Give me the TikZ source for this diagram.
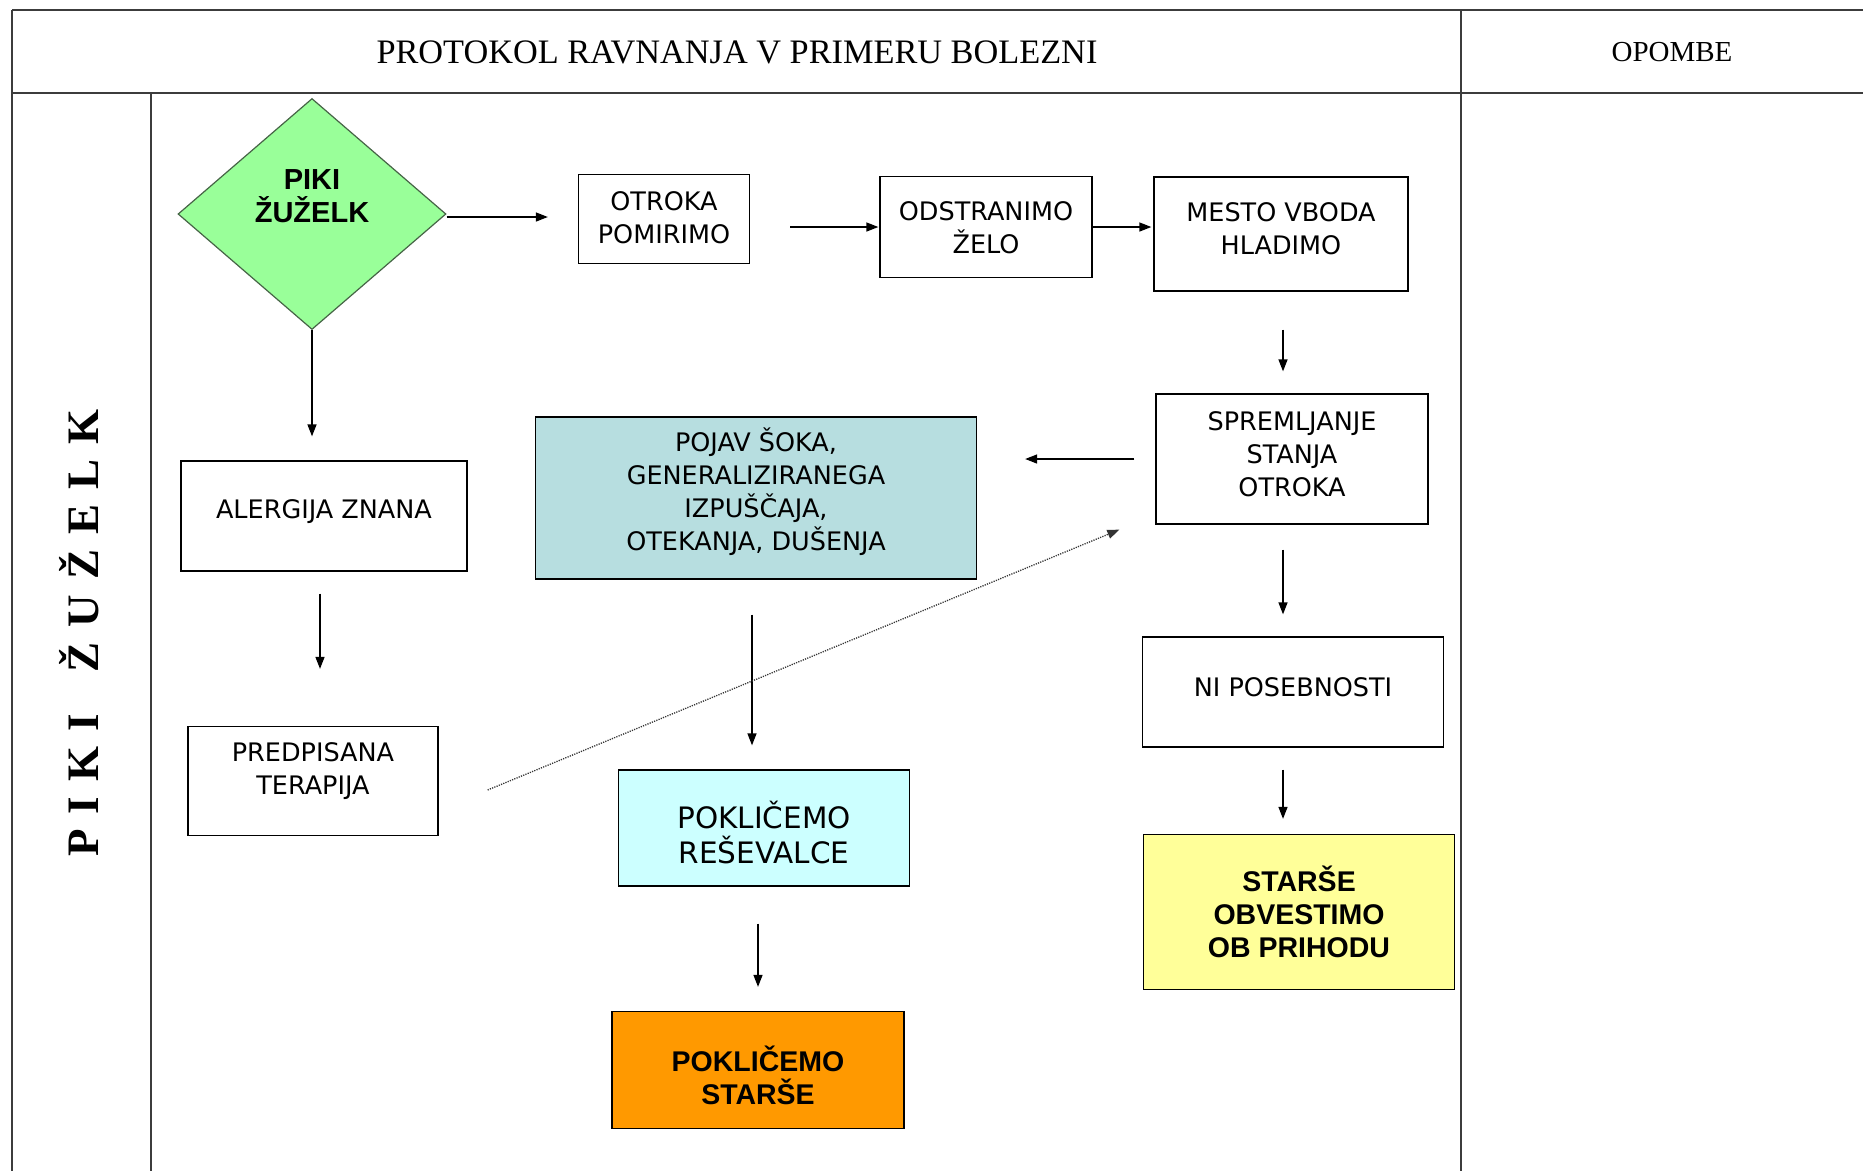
\documentclass[tikz,border=0pt]{standalone}
\usepackage{fontspec}
\setmainfont{Liberation Serif}
\newfontfamily\boxfont{DejaVu Sans}
\newfontfamily\strongfont{Liberation Sans}
\usetikzlibrary{shapes.geometric,arrows.meta}
\definecolor{tblline}{RGB}{60,60,60}
\definecolor{diafill}{RGB}{153,255,153}
\definecolor{diadraw}{RGB}{70,100,70}
\definecolor{shockfill}{RGB}{183,222,224}
\definecolor{ambfill}{RGB}{204,255,255}
\definecolor{parentfill}{RGB}{255,153,0}
\definecolor{notefill}{RGB}{255,255,153}
\newcommand{\lsp}{\hspace{15pt}}
\begin{document}
\begin{tikzpicture}[x=1pt,y=-1pt,
  tbl/.style={draw=tblline,line width=2pt},
  tblv/.style={draw=tblline,line width=1.5pt},
  stepbox/.style={draw=black,line width=1.3pt,inner sep=0pt},
  txt/.style={inner sep=0pt,align=center,font=\boxfont\fontsize{25.5}{33}\selectfont},
  boldtxt/.style={inner sep=0pt,align=center,font=\strongfont\bfseries\fontsize{28.5}{33}\selectfont},
  arr/.style={line width=1.4pt,-{Triangle[length=12pt,width=9pt]}},
  dotarr/.style={line width=1.3pt,draw=black!80,dash pattern=on 1.2pt off 1.2pt,
    -{Triangle[length=12pt,width=9pt]}}]
\useasboundingbox (0,0) rectangle (1863,1171);
\fill[white] (0,0) rectangle (1863,1171);

% table frame
\draw[tbl] (12,10) -- (1863,10);
\draw[tbl] (12,93) -- (1863,93);
\draw[tblv] (12,10) -- (12,1171);
\draw[tblv] (151,93) -- (151,1171);
\draw[tblv] (1461,10) -- (1461,1171);

% header texts
\node[font=\fontsize{34.3}{40}\selectfont] (title) at (737,52) {PROTOKOL RAVNANJA V PRIMERU BOLEZNI};
\node[font=\fontsize{29}{35}\selectfont] (notes) at (1672,52) {OPOMBE};

% row label
\node[rotate=90,font=\bfseries\fontsize{45}{50}\selectfont] (rowlabel) at (79,633)
  {P\lsp I\lsp K\lsp I\hspace{42pt}Ž\lsp U\lsp Ž\lsp E\lsp L\lsp K};

% start symbol
\node[diamond,draw=diadraw,line width=1.2pt,fill=diafill,inner sep=0pt,
  minimum width=268pt,minimum height=231pt] (dia) at (312,214) {};
\node[boldtxt,font=\strongfont\bfseries\fontsize{29}{33}\selectfont] (dia-t) at (312,196) {PIKI\\ŽUŽELK};

% boxes
\node[stepbox,minimum width=171pt,minimum height=89pt] (calm) at (664,219) {};
\node[stepbox,minimum width=212pt,minimum height=101pt] (sting) at (986,227) {};
\node[stepbox,minimum width=254pt,minimum height=114pt] (cool) at (1281,234) {};
\node[stepbox,minimum width=272pt,minimum height=130pt] (watch) at (1292,459) {};
\node[stepbox,fill=shockfill,minimum width=441pt,minimum height=162pt] (shock) at (756,498) {};
\node[stepbox,fill=ambfill,minimum width=291pt,minimum height=116pt] (amb) at (764,828) {};
\node[stepbox,fill=parentfill,minimum width=292pt,minimum height=117pt] (callpar) at (758,1070) {};
\node[stepbox,minimum width=286pt,minimum height=110pt] (allergy) at (324,516) {};
\node[stepbox,minimum width=250pt,minimum height=109pt] (therapy) at (313,781) {};
\node[stepbox,minimum width=301pt,minimum height=110pt] (normal) at (1293,692) {};
\node[stepbox,fill=notefill,minimum width=311pt,minimum height=155pt] (inform) at (1299,912) {};

% box texts
\node[txt,yshift=1pt] (calm-t) at (calm) {OTROKA\\POMIRIMO};
\node[txt,yshift=-1pt] (sting-t) at (sting) {ODSTRANIMO\\ŽELO};
\node[txt,yshift=5pt] (cool-t) at (cool) {MESTO VBODA\\HLADIMO};
\node[txt,yshift=5pt] (watch-t) at (watch) {SPREMLJANJE\\STANJA\\OTROKA};
\node[txt,yshift=6pt] (shock-t) at (shock) {POJAV ŠOKA,\\GENERALIZIRANEGA\\IZPUŠČAJA,\\OTEKANJA, DUŠENJA};
\node[txt,yshift=-5pt,font=\boxfont\fontsize{29.5}{35}\selectfont] (amb-t) at (amb) {POKLIČEMO\\REŠEVALCE};
\node[boldtxt,yshift=-5pt] (callpar-t) at (callpar) {POKLIČEMO\\STARŠE};
\node[txt,yshift=4pt] (allergy-t) at (allergy) {ALERGIJA ZNANA};
\node[txt,yshift=10pt] (therapy-t) at (therapy) {PREDPISANA\\TERAPIJA};
\node[txt,yshift=5pt] (normal-t) at (normal) {NI POSEBNOSTI};
\node[boldtxt] (inform-t) at (inform) {STARŠE\\OBVESTIMO\\OB PRIHODU};

% connectors
\draw[arr,shorten >=30pt] ([yshift=-3pt]dia.east) -- ([yshift=-3pt]dia.east -| calm.west);
\draw[arr,shorten <=40pt,shorten >=1pt] (calm.east |- sting.west) -- (sting.west);
\draw[arr,shorten >=2pt] (sting.east) -- (sting.east -| cool.west);
\draw[arr,shorten <=38pt,shorten >=22pt] ([xshift=2pt]cool.south) -- ([xshift=2pt]cool.south |- watch.north);
\draw[arr,shorten <=21pt,shorten >=48pt] (watch.west) -- (watch.west -| shock.east);
\draw[arr,shorten <=25pt,shorten >=22pt] ([xshift=2pt]watch.south -| cool.south) -- ([xshift=2pt]normal.north -| cool.south);
\draw[arr,shorten <=22pt,shorten >=15pt] ([xshift=2pt]normal.south -| cool.south) -- ([xshift=2pt]inform.north -| cool.south);
\draw[arr,shorten <=35pt,shorten >=24pt] ([xshift=-4pt]shock.south) -- ([xshift=-4pt]shock.south |- amb.north);
\draw[arr,shorten <=37pt,shorten >=24pt] (callpar.north |- amb.south) -- (callpar.north);
\draw[arr,shorten >=24pt] (dia.south) -- (dia.south |- allergy.north);
\draw[arr,shorten <=22pt,shorten >=57pt] ([xshift=-4pt]allergy.south) -- ([xshift=-4pt]allergy.south |- therapy.north);
\draw[dotarr] ([xshift=49pt,yshift=-9pt]therapy.east) -- ([xshift=-36pt,yshift=-5pt]watch.south west);
\end{tikzpicture}
\end{document}
